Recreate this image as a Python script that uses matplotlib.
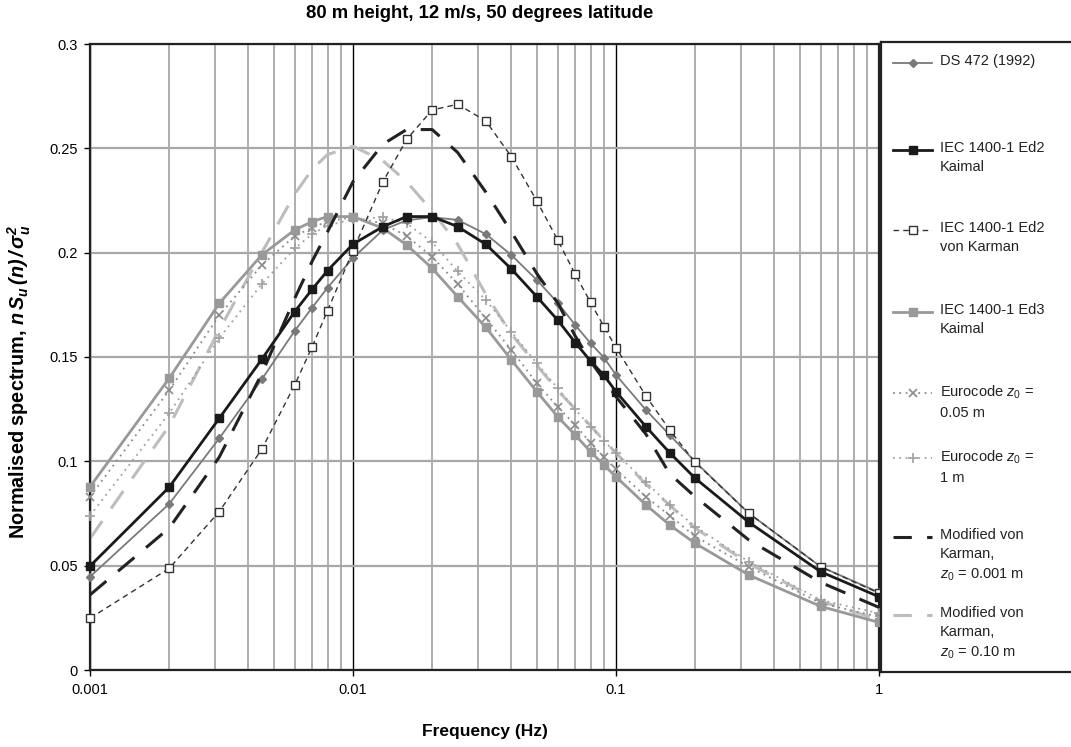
import matplotlib.pyplot as plt
import numpy as np
from matplotlib.ticker import LogLocator, NullFormatter, FixedLocator

# frequencies (Hz) the spectra were evaluated at
freq = [0.001, 0.002, 0.0031, 0.0045, 0.006, 0.007, 0.008, 0.01, 0.013, 0.016,
        0.02, 0.025, 0.032, 0.04, 0.05, 0.06, 0.07, 0.08, 0.09, 0.1,
        0.13, 0.16, 0.2, 0.32, 0.6, 1.0]

ds472 = [0.0447, 0.0796, 0.111, 0.1393, 0.1625, 0.1737, 0.1832, 0.1975, 0.2109, 0.2155,
         0.217, 0.2157, 0.2089, 0.1989, 0.1869, 0.176, 0.1653, 0.1566, 0.1497, 0.1414,
         0.1246, 0.1126, 0.0998, 0.0751, 0.0495, 0.0372]
iec2_kaimal = [0.0498, 0.0876, 0.1206, 0.1489, 0.1717, 0.1825, 0.1914, 0.2041, 0.2125, 0.2173,
               0.2173, 0.2125, 0.204, 0.1922, 0.1789, 0.1677, 0.1569, 0.1481, 0.1412, 0.1334,
               0.1166, 0.1041, 0.0919, 0.0708, 0.0471, 0.0351]
iec2_karman = [0.0248, 0.0487, 0.0759, 0.1058, 0.1366, 0.155, 0.1722, 0.201, 0.234, 0.2543,
               0.2684, 0.2711, 0.2631, 0.246, 0.2248, 0.2061, 0.1896, 0.1762, 0.1645, 0.1545,
               0.1313, 0.115, 0.0995, 0.0751, 0.0495, 0.0368]
iec3_kaimal = [0.0878, 0.1398, 0.1757, 0.1989, 0.2109, 0.2149, 0.2173, 0.2173, 0.2117, 0.2037,
               0.1925, 0.1789, 0.1642, 0.1486, 0.1334, 0.1214, 0.1126, 0.1046, 0.0982, 0.0926,
               0.0791, 0.0695, 0.0607, 0.0455, 0.0305, 0.0228]
euro_005 = [0.083, 0.134, 0.170, 0.194, 0.208, 0.212, 0.215, 0.217, 0.214, 0.208,
            0.198, 0.185, 0.1685, 0.1534, 0.1374, 0.1262, 0.1174, 0.1089, 0.1019, 0.0962,
            0.083, 0.074, 0.064, 0.0495, 0.032, 0.0255]
euro_1 = [0.074, 0.123, 0.159, 0.185, 0.202, 0.209, 0.213, 0.216, 0.217, 0.214,
          0.205, 0.191, 0.1773, 0.1621, 0.147, 0.135, 0.1249, 0.1166, 0.1099, 0.1038,
          0.090, 0.079, 0.0687, 0.0519, 0.0335, 0.0272]
modkarman_0001 = [0.036, 0.068, 0.102, 0.142, 0.178, 0.196, 0.210, 0.234, 0.252, 0.259,
                  0.259, 0.248, 0.229, 0.210, 0.190, 0.176, 0.160, 0.148, 0.139, 0.131,
                  0.113, 0.094, 0.083, 0.0623, 0.042, 0.030]
modkarman_010 = [0.063, 0.117, 0.163, 0.200, 0.228, 0.240, 0.247, 0.251, 0.244, 0.234,
                 0.220, 0.204, 0.180, 0.161, 0.146, 0.134, 0.125, 0.117, 0.110, 0.104,
                 0.089, 0.079, 0.068, 0.051, 0.033, 0.024]

labels = ['DS 472 (1992)',
          'IEC 1400-1 Ed2\nKaimal',
          'IEC 1400-1 Ed2\nvon Karman',
          'IEC 1400-1 Ed3\nKaimal',
          'Eurocode $z_0$ =\n0.05 m',
          'Eurocode $z_0$ =\n1 m',
          'Modified von\nKarman,\n$z_0$ = 0.001 m',
          'Modified von\nKarman,\n$z_0$ = 0.10 m']

styles = [
    dict(color='#7a7a7a', lw=1.3, marker='D', ms=3.8, mfc='#7a7a7a', mec='#7a7a7a'),
    dict(color='#1a1a1a', lw=2.0, marker='s', ms=5.8, mfc='#1a1a1a', mec='#1a1a1a'),
    dict(color='#333333', lw=1.0, ls=(0, (4, 3)), marker='s', ms=5.8, mfc='white', mec='#333333', mew=1.0),
    dict(color='#999999', lw=2.0, marker='s', ms=5.8, mfc='#999999', mec='#999999'),
    dict(color='#8a8a8a', lw=1.3, ls=(0, (1, 2.5)), marker='x', ms=5.5, mew=1.2, mec='#8a8a8a'),
    dict(color='#a0a0a0', lw=1.3, ls=(0, (1, 2.5)), marker='+', ms=6.5, mew=1.2, mec='#a0a0a0'),
    dict(color='#222222', lw=2.2, ls=(0, (7, 5))),
    dict(color='#bdbdbd', lw=2.2, ls=(0, (7, 5))),
]
series = [ds472, iec2_kaimal, iec2_karman, iec3_kaimal, euro_005, euro_1,
          modkarman_0001, modkarman_010]
zorders = [5, 8, 6, 4, 3, 3, 7, 2]

plt.rcParams['font.family'] = ['Liberation Sans', 'DejaVu Sans']
plt.rcParams['mathtext.fontset'] = 'custom'
plt.rcParams['mathtext.rm'] = 'Liberation Sans'
plt.rcParams['mathtext.it'] = 'Liberation Sans:italic'
plt.rcParams['mathtext.bf'] = 'Liberation Sans:bold'
plt.rcParams['mathtext.bfit'] = 'Liberation Sans:italic:bold'

W, H = 1071, 747
fig = plt.figure(figsize=(W / 100, H / 100), dpi=100)
ax = fig.add_axes([90 / W, 77 / H, 789 / W, 626 / H])

ax.set_xscale('log')
ax.set_xlim(0.001, 1)
ax.set_ylim(0, 0.3)

ax.xaxis.set_major_locator(FixedLocator([0.001, 0.01, 0.1, 1]))
ax.set_xticklabels(['0.001', '0.01', '0.1', '1'])
ax.xaxis.set_minor_locator(LogLocator(base=10, subs=np.arange(2, 10)))
ax.xaxis.set_minor_formatter(NullFormatter())
ax.set_yticks(np.arange(0, 0.31, 0.05))
ax.set_yticklabels(['0', '0.05', '0.1', '0.15', '0.2', '0.25', '0.3'])

ax.grid(which='minor', axis='x', color='#a8a8a8', lw=1.3, zorder=0)
ax.grid(which='major', axis='x', color='black', lw=1.0, zorder=0)
ax.grid(which='major', axis='y', color='#a8a8a8', lw=1.6, zorder=0)
ax.set_axisbelow(True)
ax.tick_params(which='minor', length=0)
ax.tick_params(which='major', length=4, width=1, labelsize=10.5, pad=5)
for sp in ax.spines.values():
    sp.set_linewidth(1.6)
    sp.set_color('#222222')

for y, st, z in zip(series, styles, zorders):
    ax.plot(freq, y, zorder=z, clip_on=False, **st)

bold = dict(family=['Liberation Sans', 'DejaVu Sans'], weight='bold')
fig.text(480 / W, 1 - 13 / H, '80 m height, 12 m/s, 50 degrees latitude',
         ha='center', va='center', fontsize=13.3, **bold)
ax.set_xlabel('Frequency (Hz)', fontsize=12.5, labelpad=20, **bold)
ax.set_ylabel(r'Normalised spectrum, $\mathbfit{n\,S_u\,(n)\,/\,\sigma_u^2}$',
              fontsize=14.3, **bold)
ax.yaxis.set_label_coords(-0.072, 0.46)

# legend panel drawn by hand, in pixel-like coordinates
lax = fig.add_axes([881 / W, 75 / H, 200 / W, 630 / H])
lax.set_xlim(0, 200)
lax.set_ylim(672, 42)
lax.set_xticks([])
lax.set_yticks([])
for sp in lax.spines.values():
    sp.set_linewidth(1.6)
    sp.set_color('#222222')

entry_y = [63, 150, 230, 312, 393, 458, 537, 615]
for i, (y0, st, lab) in enumerate(zip(entry_y, styles, labels)):
    s = {k: v for k, v in st.items() if k not in ('marker', 'ms', 'mfc', 'mec', 'mew')}
    if i >= 6:
        s['ls'] = (0, (6, 5))
    lax.plot([12, 51], [y0, y0], **s)
    if 'marker' in st:
        lax.plot([31.5], [y0], ls='none', marker=st['marker'], ms=st['ms'],
                 mfc=st.get('mfc', 'none'), mec=st.get('mec', st['color']), mew=st.get('mew', 1))
    lax.text(59, y0 - 9, lab, fontsize=10.5, va='top', ha='left', linespacing=1.45,
             color='#222222')

fig.savefig('out.png', dpi=100)
